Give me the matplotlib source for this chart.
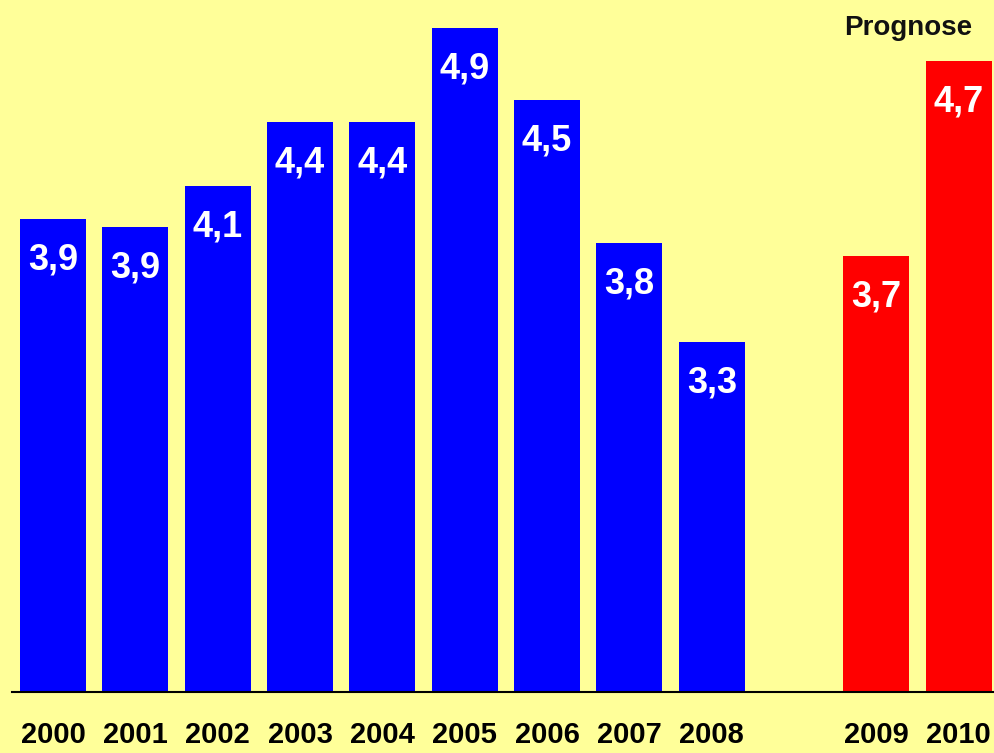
import numpy as np
import matplotlib
matplotlib.use('Agg')
import matplotlib.pyplot as plt

plt.rcParams['font.family'] = ['Liberation Sans', 'DejaVu Sans']

# Daten
jahre_ist = ['2000', '2001', '2002', '2003', '2004', '2005', '2006', '2007', '2008']
werte_ist = [3.92, 3.88, 4.09, 4.42, 4.42, 4.90, 4.53, 3.80, 3.29]
jahre_prognose = ['2009', '2010']
werte_prognose = [3.73, 4.73]

bg = '#FFFF99'

fig = plt.figure(figsize=(9.95, 7.53), dpi=100, facecolor=bg)
ax = fig.add_axes([11.8 / 995, 61 / 753, 1 - 11.8 / 995, 1 - 61 / 753])
ax.set_facecolor(bg)

x_ist = np.arange(len(jahre_ist))
x_prog = np.arange(len(jahre_prognose)) + len(jahre_ist) + 1

bars_ist = ax.bar(x_ist, werte_ist, width=0.8, color='#0000FF', zorder=2)
bars_prog = ax.bar(x_prog, werte_prognose, width=0.8, color='#FF0000', zorder=2)

# Werte als weisse Beschriftung oben im Balken
for bars, werte in [(bars_ist, werte_ist), (bars_prog, werte_prognose)]:
    for b, v in zip(bars, werte):
        ax.annotate(f'{v:.1f}'.replace('.', ','),
                    (b.get_x() + b.get_width() / 2, v),
                    xytext=(0, -29.5), textcoords='offset points',
                    ha='center', va='center', color='white',
                    fontsize=26, fontweight='bold', zorder=3)

ax.text(10.39, 4.90, 'Prognose', ha='center', va='center',
        fontsize=20, fontweight='bold', color='#111111')

# y-Achse beginnt nicht bei Null
ax.set_xlim(-0.5, 11.44)
ax.set_ylim(1.5, 5.043)

ax.set_xticks(list(x_ist) + list(x_prog))
ax.set_xticklabels(jahre_ist + jahre_prognose, fontsize=21, fontweight='bold')
ax.tick_params(axis='x', length=0, pad=21)
ax.set_yticks([])

for s in ['top', 'right', 'left']:
    ax.spines[s].set_visible(False)
ax.spines['bottom'].set_linewidth(1.5)
ax.spines['bottom'].set_color('black')
ax.spines['bottom'].set_zorder(4)

fig.savefig('out.png', dpi=100, facecolor=bg)
